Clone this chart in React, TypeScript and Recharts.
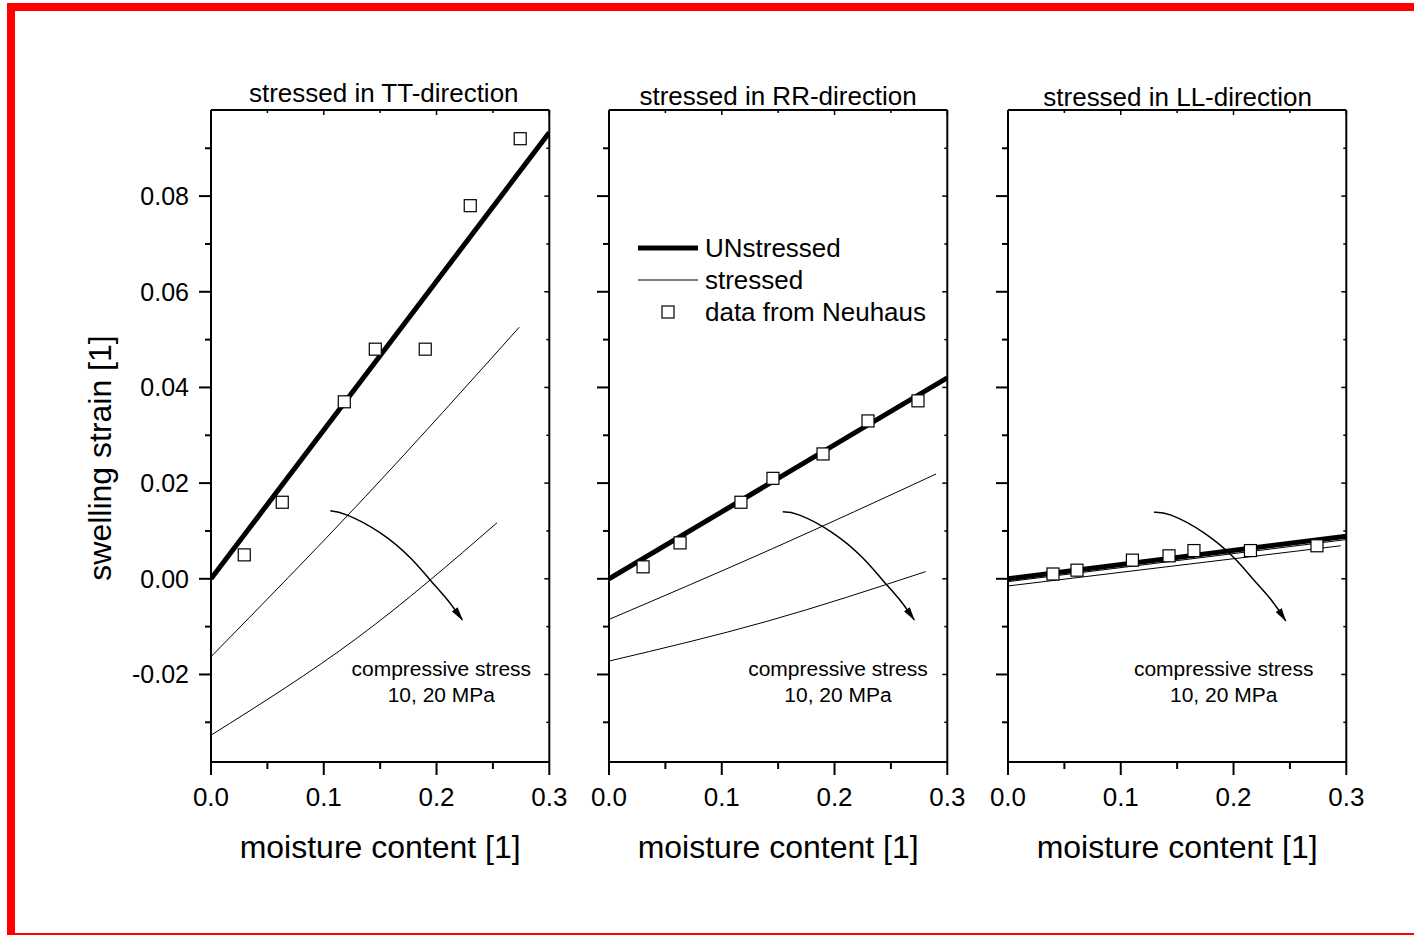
import React from 'react';
import { ComposedChart, Line, Scatter, XAxis, YAxis, ReferenceLine } from 'recharts';

type Pt = { x: number; y: number };

const FONT = '"Liberation Sans", Arial, Helvetica, sans-serif';

// axis ticks
const xTicks = [0, 0.05, 0.1, 0.15, 0.2, 0.25, 0.3];
const yTicks = [-0.03, -0.02, -0.01, 0, 0.01, 0.02, 0.03, 0.04, 0.05, 0.06, 0.07, 0.08, 0.09];
const X_MIN = 0;
const X_MAX = 0.3;
const Y_MIN = -0.0383;
const Y_MAX = 0.098;

// ---- stressed in TT-direction ----
const ttUnstressed: Pt[] = [
  { x: 0, y: 0 },
  { x: 0.3, y: 0.0933 },
];
const ttStress10: Pt[] = [
  { x: 0, y: -0.0163 },
  { x: 0.137, y: 0.0172 },
  { x: 0.2734, y: 0.0526 },
];
const ttStress20: Pt[] = [
  { x: 0, y: -0.0327 },
  { x: 0.13, y: -0.0123 },
  { x: 0.2536, y: 0.0117 },
];
const ttNeuhaus: Pt[] = [
  { x: 0.0295, y: 0.005 },
  { x: 0.0632, y: 0.016 },
  { x: 0.1182, y: 0.037 },
  { x: 0.1457, y: 0.048 },
  { x: 0.19, y: 0.048 },
  { x: 0.2299, y: 0.078 },
  { x: 0.2742, y: 0.092 },
];
const ttArrow: Pt[] = [
  { x: 0.1058, y: 0.0142 },
  { x: 0.1209, y: 0.0133 },
  { x: 0.1501, y: 0.0096 },
  { x: 0.1767, y: 0.0044 },
  { x: 0.1945, y: -0.0003 },
  { x: 0.2096, y: -0.0044 },
  { x: 0.2229, y: -0.0086 },
];

// ---- stressed in RR-direction ----
const rrUnstressed: Pt[] = [
  { x: 0, y: 0 },
  { x: 0.3, y: 0.042 },
];
const rrStress10: Pt[] = [
  { x: 0, y: -0.0085 },
  { x: 0.145, y: 0.0063 },
  { x: 0.29, y: 0.0219 },
];
const rrStress20: Pt[] = [
  { x: 0, y: -0.0172 },
  { x: 0.14, y: -0.0089 },
  { x: 0.2808, y: 0.0015 },
];
const rrNeuhaus: Pt[] = [
  { x: 0.0302, y: 0.0025 },
  { x: 0.063, y: 0.0075 },
  { x: 0.117, y: 0.016 },
  { x: 0.1454, y: 0.021 },
  { x: 0.1898, y: 0.0261 },
  { x: 0.2297, y: 0.033 },
  { x: 0.274, y: 0.0372 },
];
const rrArrow: Pt[] = [
  { x: 0.154, y: 0.014 },
  { x: 0.1691, y: 0.0133 },
  { x: 0.1983, y: 0.0096 },
  { x: 0.2249, y: 0.0044 },
  { x: 0.2427, y: -0.0003 },
  { x: 0.2578, y: -0.0044 },
  { x: 0.2707, y: -0.0086 },
];

// ---- stressed in LL-direction ----
const llUnstressed: Pt[] = [
  { x: 0, y: 0 },
  { x: 0.3, y: 0.0089 },
];
const llStress10: Pt[] = [
  { x: 0, y: -0.0006 },
  { x: 0.3, y: 0.0082 },
];
const llStress20: Pt[] = [
  { x: 0, y: -0.0015 },
  { x: 0.295, y: 0.0069 },
];
const llNeuhaus: Pt[] = [
  { x: 0.0399, y: 0.001 },
  { x: 0.0612, y: 0.0018 },
  { x: 0.1103, y: 0.0039 },
  { x: 0.1428, y: 0.0048 },
  { x: 0.1649, y: 0.0059 },
  { x: 0.215, y: 0.0059 },
  { x: 0.274, y: 0.0069 },
];
const llArrow: Pt[] = [
  { x: 0.1295, y: 0.0139 },
  { x: 0.1446, y: 0.0133 },
  { x: 0.1738, y: 0.0096 },
  { x: 0.2004, y: 0.0044 },
  { x: 0.2182, y: -0.0003 },
  { x: 0.2333, y: -0.0044 },
  { x: 0.2463, y: -0.0088 },
];

// ---- layout ----
const SVG_H = 936;
const PLOT_TOP = 110;
const PLOT_H = 652;
const PLOT_W = 338.3;
const LEFT_PAD = 150;
const RIGHT_PAD = 60;
const Y_AXIS_W = 60;
const X_AXIS_H = 100;

type PanelProps = {
  id: string;
  title: string;
  plotLeft: number;
  titleDx: number;
  titleY: number;
  noteDx: number;
  unstressed: Pt[];
  stress10: Pt[];
  stress20: Pt[];
  neuhaus: Pt[];
  arrow: Pt[];
  showYLabels: boolean;
  showLegend: boolean;
};

const panels: PanelProps[] = [
  {
    id: 'tt',
    title: 'stressed in TT-direction',
    plotLeft: 210.7,
    titleDx: 3.6,
    titleY: 102,
    noteDx: 230.3,
    unstressed: ttUnstressed,
    stress10: ttStress10,
    stress20: ttStress20,
    neuhaus: ttNeuhaus,
    arrow: ttArrow,
    showYLabels: true,
    showLegend: false,
  },
  {
    id: 'rr',
    title: 'stressed in RR-direction',
    plotLeft: 609,
    titleDx: 0,
    titleY: 105,
    noteDx: 229,
    unstressed: rrUnstressed,
    stress10: rrStress10,
    stress20: rrStress20,
    neuhaus: rrNeuhaus,
    arrow: rrArrow,
    showYLabels: false,
    showLegend: true,
  },
  {
    id: 'll',
    title: 'stressed in LL-direction',
    plotLeft: 1008.3,
    titleDx: 0.5,
    titleY: 106,
    noteDx: 215.7,
    unstressed: llUnstressed,
    stress10: llStress10,
    stress20: llStress20,
    neuhaus: llNeuhaus,
    arrow: llArrow,
    showYLabels: false,
    showLegend: false,
  },
];

const isMajorX = (v: number) => Math.round(v * 100) % 10 === 0;
const isMajorY = (v: number) => Math.round(v * 100) % 2 === 0;

const makeXTick = () => (props: any) => {
  const { x, y, payload } = props;
  const v: number = payload.value;
  const major = isMajorX(v);
  return (
    <g>
      <line x1={x} x2={x} y1={y} y2={y + (major ? 13 : 7)} stroke="#000" strokeWidth={2} />
      <line x1={x} x2={x} y1={y - PLOT_H} y2={y - PLOT_H + (major ? 5 : 3)} stroke="#000" strokeWidth={1.5} />
      {major && (
        <text x={x} y={y + 44} textAnchor="middle" fontSize={26} fontFamily={FONT} fill="#000">
          {v.toFixed(1)}
        </text>
      )}
    </g>
  );
};

const makeYTick = (showLabels: boolean) => (props: any) => {
  const { x, y, payload } = props;
  const v: number = payload.value;
  const major = isMajorY(v);
  return (
    <g>
      <line x1={x - (major ? 12 : 6)} x2={x} y1={y} y2={y} stroke="#000" strokeWidth={2} />
      <line x1={x + PLOT_W} x2={x + PLOT_W - (major ? 5 : 3)} y1={y} y2={y} stroke="#000" strokeWidth={1.5} />
      {showLabels && major && (
        <text x={x - 22} y={y + 9} textAnchor="end" fontSize={25} fontFamily={FONT} fill="#000">
          {v.toFixed(2)}
        </text>
      )}
    </g>
  );
};

const SquareMarker = (props: any) => {
  const { cx, cy } = props;
  if (cx == null || cy == null) return null;
  return <rect x={cx - 6} y={cy - 6} width={12} height={12} fill="#fff" stroke="#000" strokeWidth={1.2} />;
};

function Panel(p: PanelProps) {
  const width = LEFT_PAD + PLOT_W + RIGHT_PAD;
  const cx = LEFT_PAD + PLOT_W / 2;
  const bottom = PLOT_TOP + PLOT_H;
  const markerId = `arrowhead-${p.id}`;
  return (
    <div style={{ position: 'absolute', left: p.plotLeft - LEFT_PAD, top: 0 }}>
      <ComposedChart
        width={width}
        height={SVG_H}
        margin={{ top: PLOT_TOP, right: RIGHT_PAD, bottom: SVG_H - bottom - X_AXIS_H, left: LEFT_PAD - Y_AXIS_W }}
      >
        <defs>
          <marker
            id={markerId}
            markerWidth={14}
            markerHeight={8}
            refX={13}
            refY={4}
            orient="auto"
            markerUnits="userSpaceOnUse"
          >
            <path d="M0,0.5 L14,4 L0,7.5 Z" fill="#000" />
          </marker>
        </defs>
        <XAxis
          dataKey="x"
          type="number"
          domain={[X_MIN, X_MAX]}
          ticks={xTicks}
          interval={0}
          allowDataOverflow
          height={X_AXIS_H}
          tickSize={0}
          tickMargin={0}
          tickLine={false}
          axisLine={{ stroke: '#000', strokeWidth: 2 }}
          tick={makeXTick()}
        />
        <YAxis
          type="number"
          domain={[Y_MIN, Y_MAX]}
          ticks={yTicks}
          interval={0}
          allowDataOverflow
          width={Y_AXIS_W}
          tickSize={0}
          tickMargin={0}
          tickLine={false}
          axisLine={{ stroke: '#000', strokeWidth: 2 }}
          tick={makeYTick(p.showYLabels)}
        />
        <ReferenceLine x={X_MAX} stroke="#000" strokeWidth={2} />
        <ReferenceLine y={Y_MAX} stroke="#000" strokeWidth={2} />

        <Line data={p.stress20} dataKey="y" type="natural" stroke="#000" strokeWidth={1} dot={false} isAnimationActive={false} />
        <Line data={p.stress10} dataKey="y" type="natural" stroke="#000" strokeWidth={1} dot={false} isAnimationActive={false} />
        <Line data={p.unstressed} dataKey="y" type="linear" stroke="#000" strokeWidth={5} dot={false} isAnimationActive={false} />
        <Line
          data={p.arrow}
          dataKey="y"
          type="natural"
          stroke="#000"
          strokeWidth={1.5}
          dot={false}
          markerEnd={`url(#${markerId})`}
          isAnimationActive={false}
        />
        <Scatter data={p.neuhaus} dataKey="y" shape={SquareMarker} isAnimationActive={false} />

        <text x={cx + p.titleDx} y={p.titleY} textAnchor="middle" fontSize={26} fontFamily={FONT} fill="#000">
          {p.title}
        </text>
        <text x={cx} y={bottom + 96} textAnchor="middle" fontSize={32} fontFamily={FONT} fill="#000">
          moisture content [1]
        </text>
        <text x={LEFT_PAD + p.noteDx} y={676} textAnchor="middle" fontSize={21} fontFamily={FONT} fill="#000">
          compressive stress
        </text>
        <text x={LEFT_PAD + p.noteDx} y={702} textAnchor="middle" fontSize={21} fontFamily={FONT} fill="#000">
          10, 20 MPa
        </text>
        {p.showYLabels && (
          <text
            x={LEFT_PAD - 110.7}
            y={458}
            transform={`rotate(-90 ${LEFT_PAD - 110.7} 458)`}
            textAnchor="middle"
            dominantBaseline="central"
            fontSize={32}
            fontFamily={FONT}
            fill="#000"
          >
            swelling strain [1]
          </text>
        )}
        {p.showLegend && (
          <g fontFamily={FONT} fontSize={26} fill="#000">
            <line x1={LEFT_PAD + 29} x2={LEFT_PAD + 89} y1={248} y2={248} stroke="#000" strokeWidth={5} />
            <text x={LEFT_PAD + 96} y={257}>UNstressed</text>
            <line x1={LEFT_PAD + 29} x2={LEFT_PAD + 89} y1={280} y2={280} stroke="#000" strokeWidth={1} />
            <text x={LEFT_PAD + 96} y={289}>stressed</text>
            <rect x={LEFT_PAD + 53} y={306} width={12} height={12} fill="#fff" stroke="#000" strokeWidth={1.2} />
            <text x={LEFT_PAD + 96} y={321}>data from Neuhaus</text>
          </g>
        )}
      </ComposedChart>
    </div>
  );
}

export default function App() {
  return (
    <div
      style={{
        position: 'absolute',
        left: 0,
        top: 0,
        width: 1414,
        height: 936,
        overflow: 'hidden',
        background: '#fff',
        fontFamily: FONT,
      }}
    >
      <div
        style={{
          position: 'absolute',
          left: 7,
          top: 3,
          width: 1407,
          height: 932,
          boxSizing: 'border-box',
          borderLeft: '8px solid #ff0000',
          borderTop: '8px solid #ff0000',
          borderBottom: '2px solid #ff0000',
        }}
      />
      {panels.map((p) => (
        <Panel key={p.id} {...p} />
      ))}
    </div>
  );
}
